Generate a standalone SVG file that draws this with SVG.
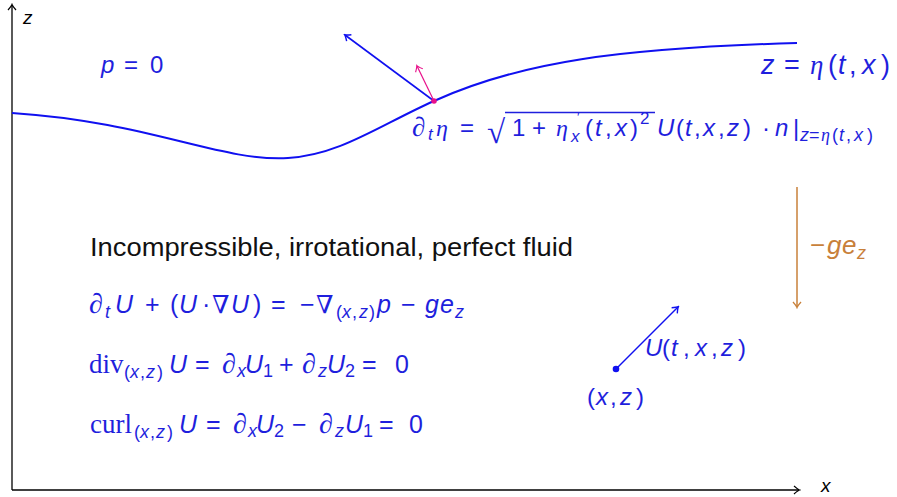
<svg xmlns="http://www.w3.org/2000/svg" width="897" height="497" viewBox="0 0 897 497">
<defs>
<style>
.m{font-family:"Liberation Sans",sans-serif;fill:#1f1fdd}
.i{font-style:italic}
.s{font-family:"Liberation Serif","DejaVu Serif",serif}
.b{font-size:17px}
.c{font-size:18px}
.ax{stroke:#000;stroke-width:1.3;fill:none}
.bl{stroke:#1010f0;fill:none}
</style>
<marker id="ahk" viewBox="-6 -5 8 10" markerWidth="8" markerHeight="10" refX="0" refY="0" orient="auto" markerUnits="userSpaceOnUse">
<path d="M-5,-4 Q-1,-0.5 0.5,0 Q-1,0.5 -5,4" fill="none" stroke="#000" stroke-width="1.2"/>
</marker>
<marker id="ahb" viewBox="-6 -5 8 10" markerWidth="8" markerHeight="10" refX="0" refY="0" orient="auto" markerUnits="userSpaceOnUse">
<path d="M-5,-4 Q-1,-0.5 0.5,0 Q-1,0.5 -5,4" fill="none" stroke="#1010f0" stroke-width="1.4"/>
</marker>
<marker id="ahp" viewBox="-6 -5 8 10" markerWidth="8" markerHeight="10" refX="0" refY="0" orient="auto" markerUnits="userSpaceOnUse">
<path d="M-5,-4 Q-1,-0.5 0.5,0 Q-1,0.5 -5,4" fill="none" stroke="#e8108a" stroke-width="1.1"/>
</marker>
<marker id="aho" viewBox="-6 -5 8 10" markerWidth="8" markerHeight="10" refX="0" refY="0" orient="auto" markerUnits="userSpaceOnUse">
<path d="M-5,-4 Q-1,-0.5 0.5,0 Q-1,0.5 -5,4" fill="none" stroke="#c8803a" stroke-width="1.3"/>
</marker>
</defs>
<rect width="897" height="497" fill="#fff"/>

<g id="connectors">
<line class="ax" x1="12" y1="490" x2="12" y2="5" marker-end="url(#ahk)"/>
<line class="ax" x1="12" y1="490" x2="799" y2="490" marker-end="url(#ahk)"/>
<path class="bl" stroke-width="2" d="M12,113 C150,122 220,162 288,158 C340,155 380,125 434,101 C520,62 620,48 797,43"/>
<line class="bl" stroke-width="1.6" x1="434" y1="101" x2="345" y2="35" marker-end="url(#ahb)"/>
<line stroke="#e8108a" stroke-width="1.2" x1="434" y1="101" x2="417" y2="66" marker-end="url(#ahp)"/>
<line stroke="#c8803a" stroke-width="1.5" x1="797" y1="187" x2="797" y2="307" marker-end="url(#aho)"/>
<line class="bl" stroke-width="1.4" x1="616" y1="369" x2="678" y2="307" marker-end="url(#ahb)"/>
</g>

<g id="point-surface"><circle cx="434" cy="101" r="2.8" fill="#e8108a"/></g>
<g id="point-fluid"><circle cx="616" cy="369" r="3.3" fill="#1010f0"/></g>

<g id="axis-labels" font-family="Liberation Sans,sans-serif" font-style="italic" font-size="19" fill="#000">
<text x="23" y="24">z</text>
<text x="821" y="492">x</text>
</g>

<g id="label-p0"><text class="m" font-size="24" y="73"><tspan class="i" x="101">p</tspan><tspan x="124">=</tspan><tspan x="150">0</tspan></text></g>

<g id="label-surface"><text class="m" font-size="27" y="74"><tspan class="i" x="761">z</tspan><tspan x="784">=</tspan><tspan class="s i" x="810">η</tspan><tspan x="828">(</tspan><tspan class="i" x="838">t</tspan><tspan x="849">,</tspan><tspan class="i" x="862">x</tspan><tspan x="881">)</tspan></text></g>

<g id="label-kinematic">
<text class="m" font-size="24" y="136"><tspan class="s i" font-size="27" x="412">∂</tspan><tspan class="i b" x="428" y="140">t</tspan><tspan class="s i" x="436" y="136">η</tspan><tspan x="460">=</tspan><tspan class="s" font-size="33" x="487" y="143">√</tspan><tspan x="512" y="136">1</tspan><tspan x="532">+</tspan><tspan class="s i" x="556">η</tspan><tspan font-size="14" x="577" y="122">′</tspan><tspan class="i b" x="571" y="142">x</tspan><tspan x="585" y="136">(</tspan><tspan class="i" x="595">t</tspan><tspan x="605">,</tspan><tspan class="i" x="615">x</tspan><tspan x="630">)</tspan><tspan class="b" x="640" y="124">2</tspan><tspan class="i" x="657" y="136">U</tspan><tspan x="676">(</tspan><tspan class="i" x="685">t</tspan><tspan x="694">,</tspan><tspan class="i" x="703">x</tspan><tspan x="718">,</tspan><tspan class="i" x="727">z</tspan><tspan x="743">)</tspan><tspan x="762">·</tspan><tspan class="i" x="775">n</tspan><tspan x="793">|</tspan><tspan class="i c" x="800" y="141">z</tspan><tspan class="c" x="809">=</tspan><tspan class="s i c" x="821">η</tspan><tspan class="c" x="832">(</tspan><tspan class="i c" x="839">t</tspan><tspan class="c" x="846">,</tspan><tspan class="i c" x="854">x</tspan><tspan class="c" x="867">)</tspan></text>
<line x1="505" y1="112.5" x2="655" y2="112.5" stroke="#1f1fdd" stroke-width="1.3"/>
</g>

<g id="label-gravity"><text font-size="26" fill="#c8803a" font-family="Liberation Sans,sans-serif" y="254"><tspan x="810">−</tspan><tspan font-style="italic" x="827">g</tspan><tspan font-style="italic" x="842">e</tspan><tspan font-style="italic" font-size="18" x="857" y="259">z</tspan></text></g>

<g id="label-title"><text x="90" y="256" font-family="Liberation Sans,sans-serif" font-size="26" fill="#111" textLength="483" lengthAdjust="spacingAndGlyphs">Incompressible, irrotational, perfect fluid</text></g>

<g id="eq-euler"><text class="m" font-size="25" y="313"><tspan class="s i" font-size="28" x="89">∂</tspan><tspan class="i c" x="105" y="318">t</tspan><tspan class="i" x="115" y="313">U</tspan><tspan x="145">+</tspan><tspan x="170">(</tspan><tspan class="i" x="179">U</tspan><tspan x="202">·</tspan><tspan class="s" x="212">∇</tspan><tspan class="i" x="231">U</tspan><tspan x="253">)</tspan><tspan x="271">=</tspan><tspan x="300">−</tspan><tspan class="s" x="316">∇</tspan><tspan class="c" x="336" y="318">(</tspan><tspan class="i c" x="342">x</tspan><tspan class="c" x="352">,</tspan><tspan class="i c" x="359">z</tspan><tspan class="c" x="369">)</tspan><tspan class="i" x="377" y="313">p</tspan><tspan x="401">−</tspan><tspan class="i" x="425">g</tspan><tspan class="i" x="440">e</tspan><tspan class="i c" x="455" y="318">z</tspan></text></g>

<g id="eq-div"><text class="m" font-size="25" y="373"><tspan class="s" font-size="27" x="89">div</tspan><tspan class="c" x="124" y="378">(</tspan><tspan class="i c" x="130">x</tspan><tspan class="c" x="140">,</tspan><tspan class="i c" x="146">z</tspan><tspan class="c" x="157">)</tspan><tspan class="i" x="169" y="373">U</tspan><tspan x="195">=</tspan><tspan class="s i" font-size="28" x="222">∂</tspan><tspan class="i c" x="237" y="377">x</tspan><tspan class="i" x="245" y="373">U</tspan><tspan class="c" x="263" y="377">1</tspan><tspan x="279" y="373">+</tspan><tspan class="s i" font-size="28" x="302">∂</tspan><tspan class="i c" x="318" y="377">z</tspan><tspan class="i" x="327" y="373">U</tspan><tspan class="c" x="345" y="377">2</tspan><tspan x="362" y="373">=</tspan><tspan x="395">0</tspan></text></g>

<g id="eq-curl"><text class="m" font-size="25" y="433"><tspan class="s" font-size="27" x="90">curl</tspan><tspan class="c" x="134" y="438">(</tspan><tspan class="i c" x="140">x</tspan><tspan class="c" x="150">,</tspan><tspan class="i c" x="156">z</tspan><tspan class="c" x="167">)</tspan><tspan class="i" x="179" y="433">U</tspan><tspan x="206">=</tspan><tspan class="s i" font-size="28" x="233">∂</tspan><tspan class="i c" x="248" y="437">x</tspan><tspan class="i" x="256" y="433">U</tspan><tspan class="c" x="274" y="437">2</tspan><tspan x="292" y="433">−</tspan><tspan class="s i" font-size="28" x="319">∂</tspan><tspan class="i c" x="335" y="437">z</tspan><tspan class="i" x="345" y="433">U</tspan><tspan class="c" x="363" y="437">1</tspan><tspan x="379" y="433">=</tspan><tspan x="409">0</tspan></text></g>

<g id="label-velocity"><text class="m" font-size="24" y="356"><tspan class="i" x="645">U</tspan><tspan x="662">(</tspan><tspan class="i" x="671">t</tspan><tspan x="683">,</tspan><tspan class="i" x="695">x</tspan><tspan x="711">,</tspan><tspan class="i" x="721">z</tspan><tspan x="738">)</tspan></text></g>
<g id="label-point"><text class="m" font-size="24" y="405"><tspan x="587">(</tspan><tspan class="i" x="596">x</tspan><tspan x="610">,</tspan><tspan class="i" x="620">z</tspan><tspan x="636">)</tspan></text></g>
</svg>
